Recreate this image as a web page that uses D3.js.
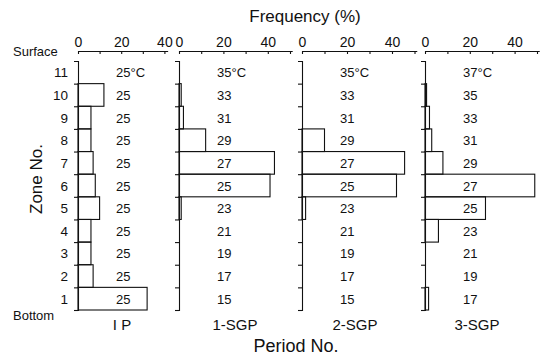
<!DOCTYPE html>
<html>
<head>
<meta charset="utf-8">
<script src="https://cdn.jsdelivr.net/npm/d3@7"></script>
<style>
  body { margin: 0; background: #fff; }
  text { font-family: "Liberation Sans", Arial, Helvetica, sans-serif; fill: #111; }
</style>
</head>
<body>
<script>
'use strict';

// zone numbers, bottom (1) to surface (11)
const zones = [1, 2, 3, 4, 5, 6, 7, 8, 9, 10, 11];

// period labels
const periods = ['I P', '1-SGP', '2-SGP', '3-SGP'];

// frequency (%) per zone, zone 1 .. zone 11
const ipFreq   = [32, 7, 6, 6, 10, 8, 7, 6, 6, 12, 0];
const sgp1Freq = [0, 0, 0, 0, 1, 41, 43, 12, 2, 1, 0];
const sgp2Freq = [0, 0, 0, 0, 1.6, 42, 45.6, 10, 0, 0, 0];
const sgp3Freq = [1.6, 0, 0, 6, 27, 49, 8, 3, 2, 0.7, 0];

// temperature (°C) per zone, zone 1 .. zone 11
const ipTemp   = [25, 25, 25, 25, 25, 25, 25, 25, 25, 25, 25];
const sgp1Temp = [15, 17, 19, 21, 23, 25, 27, 29, 31, 33, 35];
const sgp2Temp = [15, 17, 19, 21, 23, 25, 27, 29, 31, 33, 35];
const sgp3Temp = [17, 19, 21, 23, 25, 27, 29, 31, 33, 35, 37];

// frequency axis extent per panel
const axisMax = [41.5, 51, 51, 51];

const freqs = [ipFreq, sgp1Freq, sgp2Freq, sgp3Freq];
const temps = [ipTemp, sgp1Temp, sgp2Temp, sgp3Temp];

// layout
const panelX0 = [78, 179, 302, 425];   // x of the 0 % line of each panel
const pxPerPct = [2.16, 2.22, 2.25, 2.24];
const labelX = [122, 235, 355, 477];   // centre of period label
const axisY = 51;

const svg = d3.select('body')
  .append('svg')
  .attr('width', 543)
  .attr('height', 364);

svg.append('rect').attr('width', 543).attr('height', 364).attr('fill', '#fff');

// zone boundaries: 0 = bottom, 11 = surface
const yScale = d3.scaleLinear()
  .domain([0, 11])
  .range([310, 61]);

periods.forEach((p, i) => {
  let x0 = panelX0[i];
  let xScale = d3.scaleLinear()
    .domain([0, axisMax[i]])
    .range([x0, x0 + axisMax[i] * pxPerPct[i]]);

  let g = svg.append('g');

  // bars
  g.selectAll('.bar')
    .data(zones)
    .enter()
    .append('rect')
    .attr('class', 'bar')
    .attr('x', x0)
    .attr('y', (z) => yScale(z))
    .attr('width', (z) => xScale(freqs[i][z - 1]) - x0)
    .attr('height', (z) => yScale(z - 1) - yScale(z))
    .attr('fill', 'none')
    .attr('stroke', '#111')
    .attr('stroke-width', 1.1);

  // top frequency axis, ticks pointing down
  let xAxis = d3.axisTop(xScale)
    .tickValues(d3.range(0, axisMax[i], 10))
    .tickSizeInner(-3)
    .tickSizeOuter(0)
    .tickPadding(4)
    .tickFormat((d) => d % 20 === 0 ? d : '');
  let ax = g.append('g')
    .attr('transform', 'translate(0,' + axisY + ')')
    .call(xAxis);
  ax.selectAll('path, line').attr('stroke', '#111').attr('stroke-width', 1.1);
  ax.selectAll('text')
    .style('font-size', '14px')
    .style('font-family', '"Liberation Sans", Arial, sans-serif')
    .attr('fill', '#111');

  // zone axis along the 0 % line, ticks to the left
  let yAxis = d3.axisLeft(yScale)
    .tickValues(d3.range(0, 11))
    .tickSizeInner(4)
    .tickSizeOuter(4)
    .tickFormat('');
  let ay = g.append('g')
    .attr('transform', 'translate(' + x0 + ',0)')
    .call(yAxis);
  ay.selectAll('path, line').attr('stroke', '#111').attr('stroke-width', 1.1);

  // temperature labels
  g.selectAll('.temp')
    .data(zones)
    .enter()
    .append('text')
    .attr('class', 'temp')
    .attr('x', x0 + 38)
    .attr('y', (z) => yScale(z - 0.5) + 5)
    .style('font-size', '13px')
    .text((z) => temps[i][z - 1] + (z === 11 ? '°C' : ''));

  // period label
  svg.append('text')
    .attr('x', labelX[i])
    .attr('y', 330)
    .attr('text-anchor', 'middle')
    .style('font-size', '15px')
    .text(p);
});

// zone numbers
svg.selectAll('.zone')
  .data(zones)
  .enter()
  .append('text')
  .attr('class', 'zone')
  .attr('x', 68)
  .attr('y', (z) => yScale(z - 0.5) + 5)
  .attr('text-anchor', 'end')
  .style('font-size', '13.5px')
  .text((z) => z);

// titles and labels
svg.append('text')
  .attr('x', 305)
  .attr('y', 22)
  .attr('text-anchor', 'middle')
  .style('font-size', '17px')
  .text('Frequency (%)');

svg.append('text')
  .attr('x', 296)
  .attr('y', 352)
  .attr('text-anchor', 'middle')
  .style('font-size', '18px')
  .text('Period No.');

svg.append('text')
  .attr('transform', 'translate(42, 179)rotate(-90)')
  .attr('text-anchor', 'middle')
  .style('font-size', '17px')
  .text('Zone No.');

svg.append('text')
  .attr('x', 13)
  .attr('y', 56)
  .style('font-size', '13px')
  .text('Surface');

svg.append('text')
  .attr('x', 13)
  .attr('y', 320)
  .style('font-size', '13px')
  .text('Bottom');
</script>
</body>
</html>
